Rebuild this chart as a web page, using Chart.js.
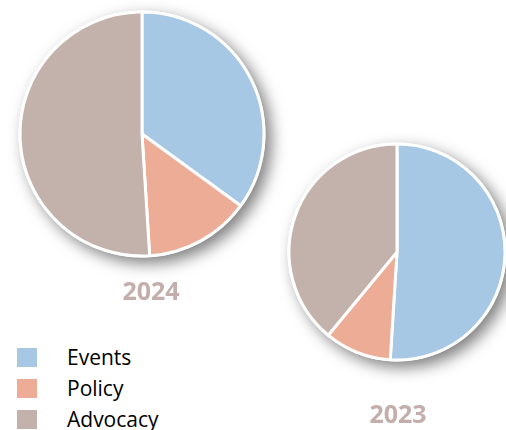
<!DOCTYPE html>
<html>
<head>
    <title>Events / Policy / Advocacy</title>
    <script src="https://cdn.jsdelivr.net/npm/chart.js"></script>
    <style>
        body { margin: 0; background: #fff; width: 506px; height: 430px; overflow: hidden; position: relative; font-family: "Open Sans", sans-serif; }
        #pie-2024 { position: absolute; left: 0; top: 0; }
        #pie-2023 { position: absolute; left: 280px; top: 130px; }
        #legend { position: absolute; left: 17px; top: 348px; }
        .item { height: 31px; display: flex; align-items: flex-start; }
        .box { width: 20px; height: 19px; margin-right: 30px; }
        .label { font-size: 21px; line-height: 19px; color: #000; }
    </style>
</head>
<body>
    <canvas id="pie-2024" width="290" height="300"></canvas>
    <canvas id="pie-2023" width="226" height="300"></canvas>
    <div id="legend"></div>

    <script>
        const categories = ['Events', 'Policy', 'Advocacy'];
        const years = ['2024', '2023'];
        const values2024 = [35, 14, 51];
        const values2023 = [51, 10, 39];
        const colors = ['#a6c8e4', '#edac96', '#c3b1ab'];

        // white disc with a soft drop shadow under the pie, plus the year label
        const pieDecor = {
            id: 'pieDecor',
            beforeDatasetsDraw(chart) {
                const arc = chart.getDatasetMeta(0).data[0];
                const ctx = chart.ctx;
                ctx.save();
                ctx.shadowColor = 'rgba(0,0,0,0.5)';
                ctx.shadowBlur = 15;
                ctx.shadowOffsetX = 6;
                ctx.shadowOffsetY = 6;
                ctx.fillStyle = '#fff';
                ctx.beginPath();
                ctx.arc(arc.x, arc.y, arc.outerRadius + 1.5, 0, Math.PI * 2);
                ctx.fill();
                ctx.restore();
            },
            afterDraw(chart, args, opts) {
                const arc = chart.getDatasetMeta(0).data[0];
                const ctx = chart.ctx;
                ctx.save();
                ctx.font = 'bold 25px "Open Sans"';
                ctx.fillStyle = '#c4aeab';
                ctx.textAlign = 'center';
                ctx.textBaseline = 'middle';
                ctx.fillText(opts.text, arc.x + opts.dx, arc.y + opts.dy);
                ctx.restore();
            }
        };

        function renderPie(canvasId, values, year, radius, padding, dx, dy) {
            const ctx = document.getElementById(canvasId).getContext('2d');
            return new Chart(ctx, {
                type: 'pie',
                data: {
                    labels: categories,
                    datasets: [{
                        data: values,
                        backgroundColor: colors,
                        borderColor: '#ffffff',
                        borderWidth: 3
                    }]
                },
                options: {
                    responsive: false,
                    animation: false,
                    radius: radius,
                    layout: { padding: padding },
                    plugins: {
                        legend: { display: false },
                        tooltip: { enabled: false },
                        pieDecor: { text: year, dx: dx, dy: dy }
                    }
                },
                plugins: [pieDecor]
            });
        }

        renderPie('pie-2024', values2024, years[0], 122, { left: 0, right: 6, top: 0, bottom: 32 }, 9, 159);
        renderPie('pie-2023', values2023, years[1], 108, { left: 8, right: 0, top: 0, bottom: 56 }, 1, 164);

        const legend = document.getElementById('legend');
        categories.forEach((name, i) => {
            const item = document.createElement('div');
            item.className = 'item';
            item.innerHTML = '<div class="box" style="background:' + colors[i] + '"></div><div class="label">' + name + '</div>';
            legend.appendChild(item);
        });
    </script>
</body>
</html>
